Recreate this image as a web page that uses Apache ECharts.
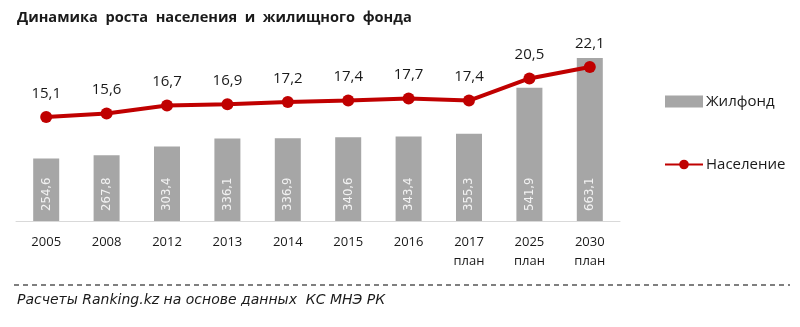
<!DOCTYPE html>
<html><head><meta charset="utf-8">
<script src="https://cdn.jsdelivr.net/npm/echarts@6/dist/echarts.min.js"></script>
<style>html,body{margin:0;padding:0;background:#fff}#c{width:800px;height:327px}</style>
</head><body><div id="c"></div>
<script>
const categories = ['2005','2008','2012','2013','2014','2015','2016','2017\nплан','2025\nплан','2030\nплан'];
const housing = [254.6,267.8,303.4,336.1,336.9,340.6,343.4,355.3,541.9,663.1];
const population = [15.1,15.6,16.7,16.9,17.2,17.4,17.7,17.4,20.5,22.1];
const fmt = v => String(v).replace('.', ',');
const chart = echarts.init(document.getElementById('c'));
chart.setOption({
  animation:false,
  title:{text:'Динамика  роста  населения  и  жилищного  фонда', left:12, top:5,
    textStyle:{fontFamily:'Open Sans', fontWeight:'bold', fontSize:14.6, color:'#1a1a1a'}},
  grid:{left:16, right:180, top:49, bottom:106},
  legend:{orient:'vertical', left:664, top:94, padding:0, itemGap:48, itemWidth:38, itemHeight:12,
    textStyle:{fontFamily:'Open Sans', fontSize:15, color:'#1a1a1a', padding:[0,0,0,-2]},
    data:[{name:'Жилфонд', icon:'rect'},{name:'Население'}]},
  xAxis:{type:'category', data:categories, boundaryGap:true,
    axisLine:{lineStyle:{color:'#d9d9d9', width:1}}, axisTick:{show:false},
    axisLabel:{fontFamily:'Open Sans', fontSize:13, color:'#1a1a1a', lineHeight:19, margin:12, interval:0}},
  yAxis:[{type:'value', min:0, max:700, show:false, splitLine:{show:false}},
         {type:'value', min:0.54, max:24.62, show:false, splitLine:{show:false}}],
  series:[
    {name:'Жилфонд', type:'bar', data:housing, barWidth:26, yAxisIndex:0,
      itemStyle:{color:'#a6a6a6'},
      label:{show:true, position:'insideBottom', rotate:90, align:'left', verticalAlign:'middle', distance:10,
        formatter:p=>fmt(p.value), fontFamily:'"DejaVu Sans Condensed", "Open Sans", sans-serif', fontSize:13, color:'#f2f2f2'}},
    {name:'Население', type:'line', data:population, yAxisIndex:1,
      symbol:'circle', symbolSize:12, lineStyle:{color:'#c00000', width:4}, itemStyle:{color:'#c00000'},
      label:{show:true, position:'top', distance:10, formatter:p=>fmt(p.value),
        fontFamily:'Open Sans', fontSize:15, color:'#1a1a1a'}}
  ],
  graphic:[
    {type:'line', shape:{x1:14, y1:285, x2:790, y2:285}, style:{stroke:'#555', lineWidth:1.5, lineDash:[5,4]}},
    {type:'text', left:17, top:293, style:{text:'Расчеты Ranking.kz на основе данных  КС МНЭ РК',
      font:'italic 14px "DejaVu Sans"', fill:'#1a1a1a'}}
  ]
});
</script></body></html>
